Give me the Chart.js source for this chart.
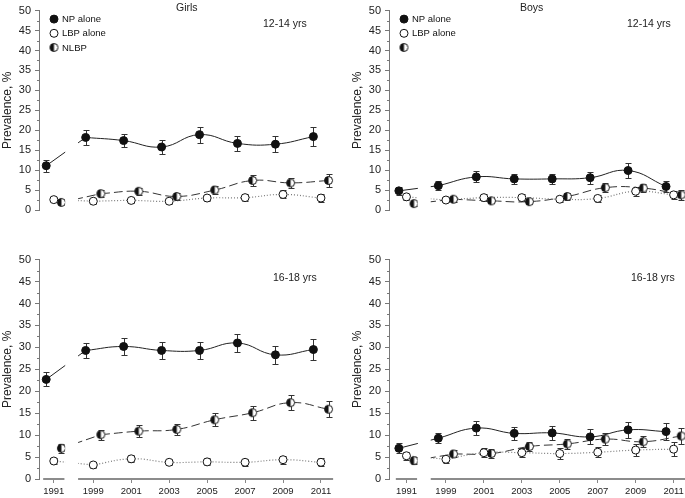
<!DOCTYPE html>
<html><head><meta charset="utf-8">
<script src="https://cdn.jsdelivr.net/npm/chart.js@4/dist/chart.umd.min.js"></script>
<style>
html,body{margin:0;padding:0;background:#fff;}
body{width:685px;height:498px;position:relative;overflow:hidden;}
canvas{position:absolute;}
.t{position:absolute;font-family:"Liberation Sans",Arial,Helvetica,sans-serif;font-size:10.5px;line-height:12px;color:#222;white-space:nowrap;}
</style></head><body>
<canvas id="gTop" width="350" height="249" style="left:0;top:0"></canvas>
<canvas id="bTop" width="350" height="249" style="left:350px;top:0"></canvas>
<canvas id="gBot" width="350" height="249" style="left:0;top:249px"></canvas>
<canvas id="bBot" width="350" height="249" style="left:350px;top:249px"></canvas>
<div class="t" style="left:176px;top:1px">Girls</div>
<div class="t" style="left:520px;top:1px">Boys</div>
<div class="t" style="left:263px;top:17px">12-14 yrs</div>
<div class="t" style="left:627px;top:17px">12-14 yrs</div>
<div class="t" style="left:273px;top:271px">16-18 yrs</div>
<div class="t" style="left:631px;top:271px">16-18 yrs</div>
<script>
// ---------- data ----------
const years = ['1991','1999','2001','2003','2005','2007','2009','2011'];
const seriesLabels = ['NP alone','LBP alone','NLBP'];
const yTickStep = 5;

const girls1214NP      = [11.1, 18.2, 17.4, 15.8, 18.9, 16.7, 16.5, 18.4];
const girls1214NPErr   = [1.5, 1.8, 1.7, 1.7, 2.0, 1.9, 2.0, 2.3];
const girls1214LBP     = [2.6, 2.2, 2.4, 2.2, 3.0, 3.1, 3.9, 3.0];
const girls1214LBPErr  = [0.6, 0.6, 0.7, 0.6, 0.8, 0.9, 1.0, 0.9];
const girls1214NLBP    = [1.9, 4.1, 4.7, 3.4, 5.0, 7.4, 6.8, 7.4];
const girls1214NLBPErr = [0.5, 0.8, 0.9, 0.8, 1.0, 1.3, 1.2, 1.6];

const boys1214NP       = [4.8, 6.1, 8.3, 7.8, 7.8, 8.1, 9.9, 5.9];
const boys1214NPErr    = [1.0, 1.1, 1.4, 1.3, 1.3, 1.5, 1.8, 1.4];
const boys1214LBP      = [3.3, 2.5, 3.1, 3.1, 2.7, 2.9, 4.7, 3.8];
const boys1214LBPErr   = [0.7, 0.6, 0.8, 0.8, 0.7, 0.9, 1.1, 1.0];
const boys1214NLBP     = [1.6, 2.7, 2.3, 2.1, 3.4, 5.6, 5.5, 3.8];
const boys1214NLBPErr  = [0.5, 0.6, 0.6, 0.7, 0.8, 1.2, 1.1, 1.2];

const girls1618NP      = [22.7, 29.3, 30.2, 29.3, 29.3, 31.0, 28.3, 29.5];
const girls1618NPErr   = [1.6, 1.8, 2.0, 2.0, 2.0, 2.1, 2.1, 2.3];
const girls1618LBP     = [4.1, 3.2, 4.6, 3.8, 3.9, 3.8, 4.4, 3.8];
const girls1618LBPErr  = [0.7, 0.6, 0.8, 0.7, 0.8, 0.8, 0.9, 0.9];
const girls1618NLBP    = [7.0, 10.1, 10.9, 11.3, 13.5, 15.1, 17.4, 15.9];
const girls1618NLBPErr = [1.0, 1.1, 1.3, 1.3, 1.5, 1.6, 1.7, 1.8];

const boys1618NP       = [7.0, 9.3, 11.6, 10.4, 10.5, 9.6, 11.2, 10.8];
const boys1618NPErr    = [1.1, 1.1, 1.6, 1.5, 1.6, 1.7, 1.8, 1.9];
const boys1618LBP      = [5.3, 4.5, 6.0, 6.0, 5.8, 6.1, 6.6, 6.8];
const boys1618LBPErr   = [0.9, 0.8, 1.1, 1.1, 1.2, 1.2, 1.3, 1.6];
const boys1618NLBP     = [4.2, 5.7, 5.8, 7.4, 8.0, 9.1, 8.5, 9.8];
const boys1618NLBPErr  = [0.7, 0.8, 1.0, 1.1, 1.2, 1.3, 1.3, 1.8];

// ---------- layout helpers ----------
const GAP1991 = 1.04;           // 1991 sits a bit more than one slot before 1999
const slotOf = i => (i === 0 ? -GAP1991 : i - 1);
const FONT = '"Liberation Sans", Arial, Helvetica, sans-serif';
Chart.defaults.font.family = FONT;
Chart.defaults.color = '#222';

// half-filled marker
const half = document.createElement('canvas');
half.width = 11; half.height = 11;
(function(){
  const c = half.getContext('2d');
  c.beginPath(); c.arc(5.5,5.5,4,0,Math.PI*2); c.fillStyle='#fff'; c.fill();
  c.beginPath(); c.moveTo(5.5,1.5); c.arc(5.5,5.5,4,-Math.PI/2,Math.PI/2,true); c.closePath();
  c.fillStyle='#111'; c.fill();
  c.beginPath(); c.arc(5.5,5.5,4,0,Math.PI*2); c.lineWidth=1; c.strokeStyle='#111'; c.stroke();
})();

const styles = [
  {off:-0.2, ps:'circle', fill:'#111', line:'#222', lw:1,   dash:[]},
  {off: 0.0, ps:'circle', fill:'#fff', line:'#7a7a7a', lw:1.2, dash:[1,2]},
  {off: 0.2, ps:half,     fill:'#fff', line:'#333', lw:1,   dash:[9,4]}
];

function seriesDatasets(vals, errs, st, label){
  const pts = vals.map((v,i)=>({x: slotOf(i)+st.off, y: v}));
  return [
    {label, data: pts, errors: errs, isMarker: true, showLine: false,
     pointStyle: st.ps, pointRadius: 4, pointHoverRadius: 4,
     pointBackgroundColor: st.fill, pointBorderColor: '#111', pointBorderWidth: 1,
     backgroundColor: st.fill, borderColor: '#111', order: 0},
    {label: '', data: pts.slice(1), showLine: true, tension: 0.45, pointRadius: 0, pointHoverRadius: 0,
     borderColor: st.line, borderWidth: st.lw, borderDash: st.dash, order: 1},
    {label: '', data: pts.slice(0,2), showLine: true, tension: 0, pointRadius: 0, pointHoverRadius: 0,
     borderColor: st.line, borderWidth: st.lw, borderDash: st.dash, order: 1}
  ];
}

const errorBars = {
  id: 'errorBars',
  beforeDatasetsDraw(chart){
    const ctx = chart.ctx, ys = chart.scales.y;
    chart.data.datasets.forEach((ds, di)=>{
      if (!ds.errors) return;
      const meta = chart.getDatasetMeta(di);
      meta.data.forEach((pt, i)=>{
        const v = ds.data[i].y, e = ds.errors[i];
        const x = Math.round(pt.x) + 0.5;
        const y1 = Math.round(ys.getPixelForValue(v+e)) + 0.5;
        const y2 = Math.round(ys.getPixelForValue(v-e)) + 0.5;
        ctx.save();
        ctx.strokeStyle = '#333'; ctx.lineWidth = 1;
        ctx.beginPath();
        ctx.moveTo(x,y1); ctx.lineTo(x,y2);
        ctx.moveTo(x-3,y1); ctx.lineTo(x+3,y1);
        ctx.moveTo(x-3,y2); ctx.lineTo(x+3,y2);
        ctx.stroke(); ctx.restore();
      });
    });
  }
};

function makePanel(id, np, npE, lbp, lbpE, nlbp, nlbpE, labels, xmin, showX, showLegend){
  const xmax = xmin + 301/37.95;
  const datasets = [
    ...seriesDatasets(np, npE, styles[0], labels[0]),
    ...seriesDatasets(lbp, lbpE, styles[1], labels[1]),
    ...seriesDatasets(nlbp, nlbpE, styles[2], labels[2])
  ];
  const slotToYear = {};
  years.forEach((y,i)=>{ slotToYear[slotOf(i).toFixed(3)] = y; });

  const decor = {
    id: 'decor_'+id,
    afterDatasetsDraw(chart){
      const ctx = chart.ctx, xs = chart.scales.x, ys = chart.scales.y, ca = chart.chartArea;
      // break in the lines between 1991 and 1999
      const g1 = xs.getPixelForValue(-0.74), g2 = xs.getPixelForValue(-0.40);
      ctx.save();
      ctx.fillStyle = '#fff';
      ctx.fillRect(g1, ca.top, g2-g1, ca.bottom-ca.top-1);
      // minor y ticks
      ctx.strokeStyle = '#777'; ctx.lineWidth = 1;
      ctx.beginPath();
      for (let v = yTickStep/2; v < 50; v += yTickStep){
        const y = Math.round(ys.getPixelForValue(v)) + 0.5;
        ctx.moveTo(ca.left-2, y); ctx.lineTo(ca.left, y);
      }
      ctx.stroke();
      // broken x axis line
      if (showX){
        ctx.strokeStyle = '#8c8c8c'; ctx.lineWidth = 2;
        const y = ca.bottom;
        const s0 = slotOf(0);
        ctx.beginPath();
        ctx.moveTo(xs.getPixelForValue(s0-0.28), y); ctx.lineTo(xs.getPixelForValue(s0+0.28), y);
        ctx.moveTo(xs.getPixelForValue(-0.40), y); ctx.lineTo(xs.getPixelForValue(6.32), y);
        ctx.stroke();
      }
      // legend inside the plot (top-left)
      if (showLegend){
        let row = 0;
        chart.data.datasets.forEach((ds, di)=>{
          if (!ds.isMarker) return;
          const cy = ca.top + 8.5 + row*14.2;
          const cx = ca.left + 15;
          ctx.fillStyle = ds.pointBackgroundColor; ctx.strokeStyle = '#111'; ctx.lineWidth = 1;
          Chart.helpers.drawPoint(ctx, {pointStyle: ds.pointStyle, radius: 4, borderWidth: 1, rotation: 0}, cx, cy);
          if (ds.label){
            ctx.fillStyle = '#111';
            ctx.font = '9.5px ' + FONT;
            ctx.textAlign = 'left'; ctx.textBaseline = 'middle';
            ctx.fillText(ds.label, ca.left + 23, cy + 0.5);
          }
          row++;
        });
      }
      ctx.restore();
    }
  };

  return new Chart(document.getElementById(id), {
    type: 'scatter',
    data: { datasets },
    plugins: [errorBars, decor],
    options: {
      responsive: false, animation: false, events: [],
      layout: { padding: { top: 9, right: 10, left: 0, bottom: showX ? 0 : 20 } },
      scales: {
        x: {
          type: 'linear', min: xmin, max: xmax, display: showX,
          afterBuildTicks(scale){ scale.ticks = years.map((y,i)=>({value: slotOf(i)})); },
          afterFit(scale){ scale.height = 19; },
          ticks: { autoSkip: false, maxRotation: 0, padding: 3, color: '#222', font: {size: 9.5},
                   callback: v => slotToYear[Number(v).toFixed(3)] || '' },
          grid: { drawOnChartArea: false, drawTicks: true, tickLength: 4, color: '#888' },
          border: { display: false }
        },
        y: {
          min: 0, max: 50,
          afterFit(scale){ scale.width = 39; },
          ticks: { stepSize: yTickStep, padding: 4, color: '#222', font: {size: 11} },
          grid: { drawOnChartArea: false, drawTicks: true, tickLength: 4, color: '#777' },
          border: { display: true, color: '#777', width: 1 },
          title: { display: true, text: 'Prevalence, %', color: '#222', font: {size: 12}, padding: 0 }
        }
      },
      plugins: {
        tooltip: { enabled: false },
        legend: { display: false }
      }
    }
  });
}

makePanel('gTop', girls1214NP, girls1214NPErr, girls1214LBP, girls1214LBPErr, girls1214NLBP, girls1214NLBPErr,
          seriesLabels, -1.43, false, true);
makePanel('bTop', boys1214NP, boys1214NPErr, boys1214LBP, boys1214LBPErr, boys1214NLBP, boys1214NLBPErr,
          [seriesLabels[0], seriesLabels[1], ''], -1.50, false, true);
makePanel('gBot', girls1618NP, girls1618NPErr, girls1618LBP, girls1618LBPErr, girls1618NLBP, girls1618NLBPErr,
          seriesLabels, -1.43, true, false);
makePanel('bBot', boys1618NP, boys1618NPErr, boys1618LBP, boys1618LBPErr, boys1618NLBP, boys1618NLBPErr,
          seriesLabels, -1.50, true, false);
</script>
</body></html>
